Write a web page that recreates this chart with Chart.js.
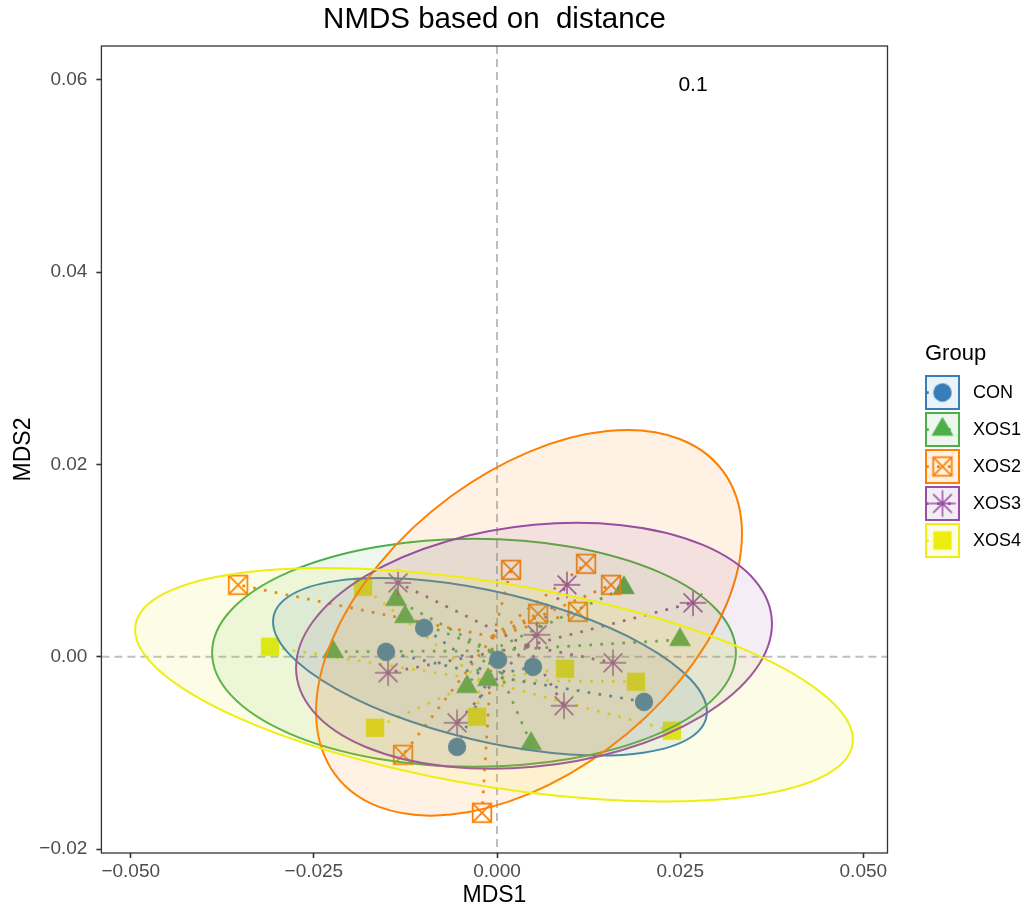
<!DOCTYPE html>
<html>
<head>
<meta charset="utf-8">
<script src="https://cdn.jsdelivr.net/npm/chart.js@4.4.1/dist/chart.umd.min.js"></script>
<style>
  html, body { margin: 0; padding: 0; background: #fff; }
</style>
</head>
<body>
<canvas id="nmds" width="1027" height="910"></canvas>
<script>
/* NMDS ordination plot: points, spiders to group centroid, stat_ellipse */

const groupNames = ['CON', 'XOS1', 'XOS2', 'XOS3', 'XOS4'];
const groupColors = ['#377EB8', '#4DAF4A', '#FF7F00', '#984EA3', '#EEEE11'];

// sample scores (MDS1 / MDS2) per group
const conMDS1  = [-0.00996, -0.01515, 0.00014, 0.00491, 0.02006, -0.00546];
const conMDS2  = [0.00301, 0.00052, -0.00031, -0.00104, -0.00468, -0.00936];
const xos1MDS1 = [-0.02238, -0.01378, -0.01255, -0.00409, -0.00123, 0.00464, 0.01733, 0.02497];
const xos1MDS2 = [0.00052, 0.00593, 0.00416, -0.00312, -0.00239, -0.00904, 0.00717, 0.00177];
const xos2MDS1 = [-0.03534, 0.00191, 0.01215, 0.01556, 0.00560, 0.01105, -0.01283, -0.00205];
const xos2MDS2 = [0.00748, 0.00904, 0.00967, 0.00748, 0.00447, 0.00468, -0.01019, -0.01622];
const xos3MDS1 = [-0.01351, -0.01487, -0.00546, 0.00546, 0.00955, 0.00914, 0.01583, 0.02675];
const xos3MDS2 = [0.00769, -0.00166, -0.00686, 0.00229, 0.00748, -0.00509, -0.00062, 0.00561];
const xos4MDS1 = [-0.03098, -0.01829, -0.01665, -0.00273, 0.00928, 0.01897, 0.02388];
const xos4MDS2 = [0.00104, 0.00728, -0.00738, -0.00624, -0.00125, -0.00260, -0.00769];

// group centroids (where the spider lines meet)
const centroidMDS1 = [-0.00096, -0.00089, -0.00055, 0.00409, -0.00232];
const centroidMDS2 = [-0.00198, 0.00062, 0.00208, 0.00114, -0.00239];

// ellipses: centre + two conjugate semi-axes (A = (AX, AY), B = (0, BY))
const ellipseCX = [-0.00096, -0.00314, 0.00437, 0.00505, -0.00041];
const ellipseCY = [-0.00104, 0.00042, 0.00353, 0.00114, -0.00291];
const ellipseAX = [0.02961, 0.03575, 0.02907, 0.03248, 0.04899];
const ellipseAY = [-0.00468, 0.00000, 0.00925, 0.00229, -0.00572];
const ellipseBY = [0.00795, 0.01185, 0.01778, 0.01258, 0.01071];

const stressLabel = '0.1';
const stressAt = [0.02675, 0.0594];

const xTickValues = [-0.05, -0.025, 0, 0.025, 0.05];
const xTickLabels = ['\u22120.050', '\u22120.025', '0.000', '0.025', '0.050'];
const yTickValues = [-0.02, 0, 0.02, 0.04, 0.06];
const yTickLabels = ['\u22120.02', '0.00', '0.02', '0.04', '0.06'];

const groupX = [conMDS1, xos1MDS1, xos2MDS1, xos3MDS1, xos4MDS1];
const groupY = [conMDS2, xos1MDS2, xos2MDS2, xos3MDS2, xos4MDS2];

const FONT = '"Liberation Sans", Arial, sans-serif';

function rgba(hex, a) {
    const n = parseInt(hex.slice(1), 16);
    return 'rgba(' + (n >> 16) + ',' + ((n >> 8) & 255) + ',' + (n & 255) + ',' + a + ')';
}

// ggplot-like shapes: 16 circle, 17 triangle, 7 square-cross, 8 asterisk, 15 square
function makeMarker(kind, color) {
    const c = document.createElement('canvas');
    const s = kind === 'asterisk' ? 30 : 26;
    c.width = s; c.height = s;
    const g = c.getContext('2d');
    const m = s / 2;
    g.fillStyle = color;
    g.strokeStyle = color;
    if (kind === 'circle') {
        g.beginPath(); g.arc(m, m, 9.2, 0, Math.PI * 2); g.fill();
    } else if (kind === 'triangle') {
        const r = 12.7;
        g.beginPath();
        for (let k = 0; k < 3; k++) {
            const a = -Math.PI / 2 + k * 2 * Math.PI / 3;
            const px = m + r * Math.cos(a), py = m + r * Math.sin(a);
            if (k === 0) g.moveTo(px, py); else g.lineTo(px, py);
        }
        g.closePath(); g.fill();
    } else if (kind === 'squareX') {
        const h = 9.3;
        g.lineWidth = 1.8;
        g.strokeRect(m - h, m - h, 2 * h, 2 * h);
        g.beginPath();
        g.moveTo(m - h, m - h); g.lineTo(m + h, m + h);
        g.moveTo(m + h, m - h); g.lineTo(m - h, m + h);
        g.stroke();
    } else if (kind === 'asterisk') {
        const r = 13.3;
        g.lineWidth = 1.5;
        g.beginPath();
        for (let k = 0; k < 4; k++) {
            const a = k * Math.PI / 4;
            g.moveTo(m - r * Math.cos(a), m - r * Math.sin(a));
            g.lineTo(m + r * Math.cos(a), m + r * Math.sin(a));
        }
        g.stroke();
    } else {
        g.fillRect(m - 9.2, m - 9.2, 18.4, 18.4);
    }
    return c;
}

const markerKinds = ['circle', 'triangle', 'squareX', 'asterisk', 'square'];
const markers = markerKinds.map((k, i) => makeMarker(k, groupColors[i]));

const datasets = [];
groupNames.forEach((name, i) => {
    const pts = groupX[i].map((x, j) => ({ x: x, y: groupY[i][j] }));
    const spider = [];
    pts.forEach(p => {
        spider.push({ x: centroidMDS1[i], y: centroidMDS2[i] }, p, { x: null, y: null });
    });
    datasets.push({
        type: 'line',
        label: name + ' spider',
        data: spider,
        showLine: true,
        borderColor: groupColors[i],
        borderWidth: 2.75,
        borderDash: [2.75, 8.25],
        pointRadius: 0,
        fill: false,
        spanGaps: false,
        order: 20 + i,
    });
    datasets.push({
        type: 'scatter',
        label: name,
        data: pts,
        pointStyle: markers[i],
        pointRadius: 10,
        pointHoverRadius: 10,
        order: 5 - i,
    });
});

const nmdsPlugin = {
    id: 'nmdsDecor',
    beforeDatasetsDraw(chart) {
        const { ctx, chartArea: a, scales } = chart;
        const x0 = scales.x.getPixelForValue(0), y0 = scales.y.getPixelForValue(0);
        ctx.save();
        ctx.beginPath(); ctx.rect(a.left, a.top, a.right - a.left, a.bottom - a.top); ctx.clip();
        ctx.strokeStyle = '#BEBEBE';
        ctx.lineWidth = 2;
        ctx.setLineDash([8, 5]);
        ctx.beginPath();
        ctx.moveTo(a.left, y0); ctx.lineTo(a.right, y0);
        ctx.moveTo(x0, a.top); ctx.lineTo(x0, a.bottom);
        ctx.stroke();
        ctx.restore();
    },
    afterDatasetsDraw(chart) {
        const { ctx, chartArea: a, scales } = chart;
        const xs = scales.x, ys = scales.y;
        ctx.save();
        ctx.beginPath(); ctx.rect(a.left, a.top, a.right - a.left, a.bottom - a.top); ctx.clip();
        groupNames.forEach((name, i) => {
            const cx = xs.getPixelForValue(ellipseCX[i]);
            const cy = ys.getPixelForValue(ellipseCY[i]);
            const ax = xs.getPixelForValue(ellipseCX[i] + ellipseAX[i]) - cx;
            const ay = ys.getPixelForValue(ellipseCY[i] + ellipseAY[i]) - cy;
            const by = ys.getPixelForValue(ellipseCY[i] + ellipseBY[i]) - cy;
            ctx.save();
            ctx.beginPath();
            ctx.transform(ax, ay, 0, by, cx, cy);
            ctx.arc(0, 0, 1, 0, Math.PI * 2);
            ctx.closePath();
            ctx.restore();
            ctx.fillStyle = rgba(groupColors[i], 0.1);
            ctx.fill();
            ctx.strokeStyle = groupColors[i];
            ctx.lineWidth = 2;
            ctx.stroke();
        });
        ctx.restore();

        // stress value
        ctx.save();
        ctx.fillStyle = '#000';
        ctx.font = '21px ' + FONT;
        ctx.textAlign = 'center';
        ctx.textBaseline = 'middle';
        ctx.fillText(stressLabel, xs.getPixelForValue(stressAt[0]), ys.getPixelForValue(stressAt[1]));
        ctx.restore();
    },
    afterDraw(chart) {
        const { ctx, chartArea: a } = chart;
        ctx.save();
        // panel border
        ctx.strokeStyle = '#333333';
        ctx.lineWidth = 1.3;
        ctx.strokeRect(a.left, a.top, a.right - a.left, a.bottom - a.top);

        // title
        ctx.fillStyle = '#000';
        ctx.font = '29.5px ' + FONT;
        ctx.textAlign = 'center';
        ctx.textBaseline = 'alphabetic';
        ctx.fillText('NMDS based on  distance', (a.left + a.right) / 2, 28);

        // legend
        const lx = 925, ly = 375, key = 35, gap = 37;
        ctx.textAlign = 'left';
        ctx.font = '22px ' + FONT;
        ctx.fillText('Group', lx, 360);
        ctx.font = '18px ' + FONT;
        groupNames.forEach((name, i) => {
            const top = ly + i * gap;
            const mid = top + key / 2;
            const m = markers[i];
            ctx.drawImage(m, lx + key / 2 - m.width / 2, mid - m.height / 2);
            ctx.save();
            ctx.strokeStyle = groupColors[i];
            ctx.lineWidth = 2.75;
            ctx.setLineDash([2.75, 8.25]);
            ctx.beginPath(); ctx.moveTo(lx + 1, mid); ctx.lineTo(lx + key - 1, mid); ctx.stroke();
            ctx.restore();
            ctx.fillStyle = rgba(groupColors[i], 0.1);
            ctx.fillRect(lx, top, key, key);
            ctx.strokeStyle = groupColors[i];
            ctx.lineWidth = 2;
            ctx.strokeRect(lx + 1, top + 1, key - 2, key - 2);
            ctx.fillStyle = '#000';
            ctx.textBaseline = 'middle';
            ctx.fillText(name, lx + 48, mid + 1);
        });
        ctx.restore();
    }
};

const axisTickFont = { family: FONT, size: 19 };

new Chart(document.getElementById('nmds'), {
    type: 'scatter',
    data: { datasets: datasets },
    options: {
        responsive: false,
        animation: false,
        devicePixelRatio: 1,
        events: [],
        layout: { padding: { top: 46, right: 139.5, bottom: 0, left: 0 } },
        plugins: { legend: { display: false }, tooltip: { enabled: false } },
        scales: {
            x: {
                type: 'linear',
                min: -0.0540, max: 0.0533,
                afterBuildTicks: axis => { axis.ticks = xTickValues.map(v => ({ value: v })); },
                afterFit: axis => { axis.height = 57; },
                ticks: {
                    callback: (v, i) => xTickLabels[i],
                    font: axisTickFont, color: '#4D4D4D', padding: 2, maxRotation: 0, autoSkip: false,
                },
                grid: { drawOnChartArea: false, drawTicks: true, tickLength: 5, tickColor: '#333333', tickWidth: 1.6 },
                border: { display: false },
                title: { display: true, text: 'MDS1', color: '#000', font: { family: FONT, size: 23 }, padding: { top: 0, bottom: 1 } },
            },
            y: {
                type: 'linear',
                min: -0.0204, max: 0.0635,
                afterBuildTicks: axis => { axis.ticks = yTickValues.map(v => ({ value: v })); },
                afterFit: axis => { axis.width = 101.4; },
                ticks: {
                    callback: (v, i) => yTickLabels[i],
                    font: axisTickFont, color: '#4D4D4D', padding: 9, autoSkip: false,
                },
                grid: { drawOnChartArea: false, drawTicks: true, tickLength: 5, tickColor: '#333333', tickWidth: 1.6 },
                border: { display: false },
                title: { display: true, text: 'MDS2', color: '#000', font: { family: FONT, size: 23 }, padding: { top: 10, bottom: 0 } },
            }
        }
    },
    plugins: [nmdsPlugin]
});
</script>
</body>
</html>
